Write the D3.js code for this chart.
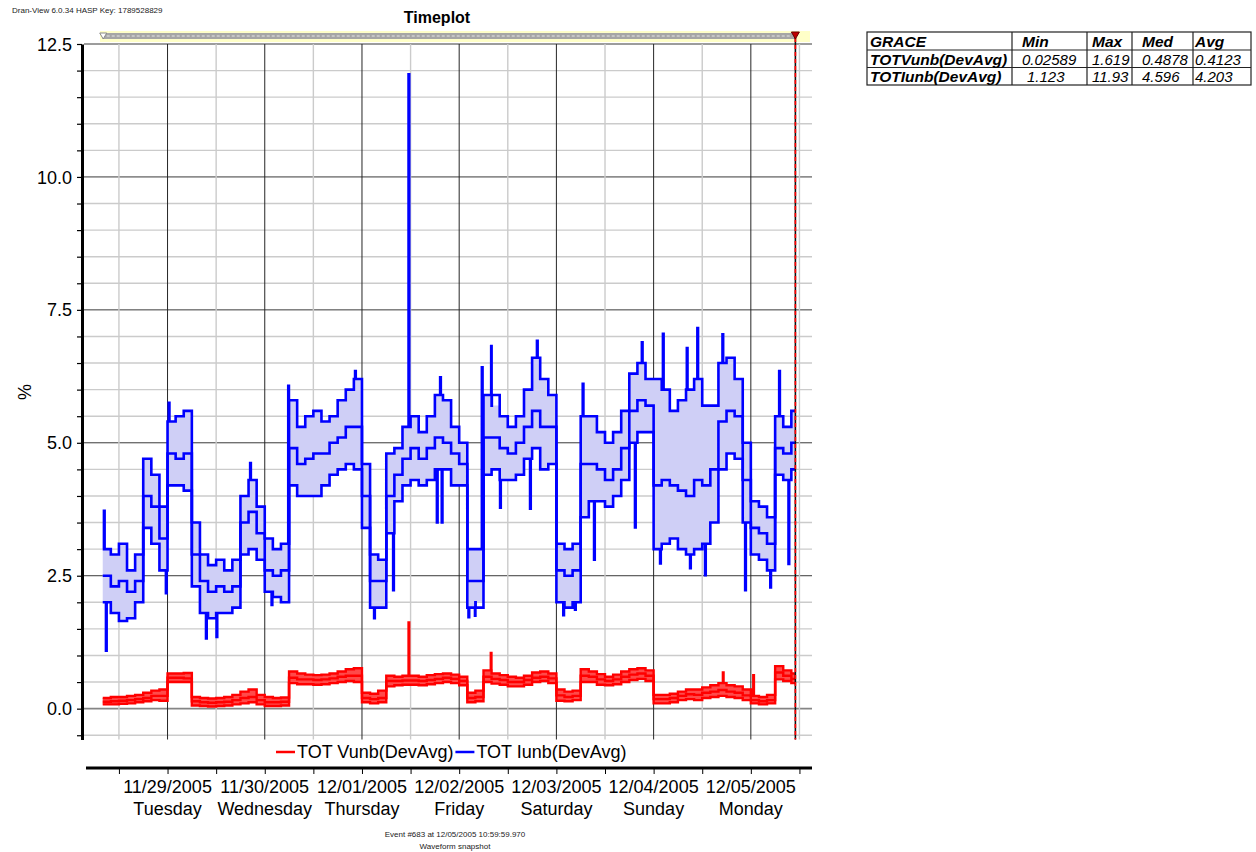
<!DOCTYPE html>
<html><head><meta charset="utf-8">
<script src="https://cdn.jsdelivr.net/npm/d3@7"></script>
<style>
html,body{margin:0;padding:0;background:#fff;}
svg{display:block;font-family:"Liberation Sans",Arial,sans-serif;}
</style></head><body>
<svg id="chart" width="1256" height="852"></svg>
<script>
// ---------------- DATA ----------------
const headerText = "Dran-View 6.0.34 HASP Key: 1789528829";
const chartTitle = "Timeplot";
const yAxisTitle = "%";
const footerLines = ["Event #683 at 12/05/2005 10:59:59.970", "Waveform snapshot"];
const seriesNames = ["TOT Vunb(DevAvg)", "TOT Iunb(DevAvg)"];
const seriesColors = ["#ff0000", "#0000ff"];

// samples every 2 hours starting 11/28/2005 08:00
const sampleStart = "2005-11-28T08:00";
const sampleStepHours = 2;
const eventTimeStr = "2005-12-05T10:59:59.970";

const iunbHi = [3.0,2.9,3.1,2.6,2.9,4.7,4.4,3.8, 5.4,5.5,5.6,3.5,2.9,2.7,2.8,2.6,2.8,4.0,4.3,3.8,
  3.2,3.0,3.1,5.8,5.3,5.5,5.6,5.4,5.5,5.8,6.0,6.2, 4.6,2.9,2.8,4.8,4.9,5.3,5.5,5.2,5.5,5.9,5.8,5.3,
  5.0,3.0,3.0,5.9,5.7,5.5,5.3,5.5,6.0,6.6,6.2,5.9, 3.1,3.0,3.1,5.5,5.5,5.2,5.0,5.2,5.6,6.3,6.5,6.2,
  6.2,6.0,5.6,5.8,6.0,6.2,5.7,5.7,6.5,6.6,6.2,5.0, 3.9,3.8,3.6,5.5,5.3,5.6];
const iunbMid = [2.5,2.3,2.4,2.2,2.4,4.0,3.8,3.2, 4.8,4.7,4.8,2.9,2.4,2.2,2.3,2.2,2.3,3.5,3.7,3.3,
  2.6,2.5,2.6,4.9,4.6,4.7,4.8,4.8,5.0,5.1,5.3,5.3, 4.0,2.4,2.4,4.0,4.4,4.7,4.9,4.7,4.9,5.1,5.0,4.8,
  4.6,2.4,2.4,5.1,5.1,4.9,4.8,5.0,5.3,5.6,5.3,5.3, 2.6,2.5,2.6,4.6,4.6,4.5,4.3,4.5,4.9,5.6,5.8,5.7,
  4.2,4.3,4.2,4.1,4.0,4.3,4.2,4.5,5.4,5.6,5.5,4.3, 3.4,3.3,3.1,4.9,4.8,5.0];
const iunbLo = [2.0,1.8,1.65,1.7,2.0,3.4,3.1,2.6, 4.2,4.2,4.1,2.3,1.8,1.7,1.8,1.8,1.9,2.9,3.0,2.8,
  2.2,2.1,2.0,4.2,4.0,4.0,4.0,4.2,4.4,4.5,4.6,4.5, 3.4,1.9,1.9,3.3,3.9,4.2,4.3,4.2,4.3,4.5,4.5,4.2,
  4.2,1.9,2.0,4.4,4.5,4.3,4.3,4.4,4.7,4.9,4.5,4.6, 2.0,1.9,2.0,3.6,3.9,3.9,3.8,4.0,4.3,5.0,5.2,5.2,
  3.0,3.1,3.2,3.0,2.9,3.0,3.1,3.5,4.5,4.8,4.7,3.5, 2.9,2.8,2.6,4.4,4.3,4.5];

const vunbHi = [0.2,0.22,0.22,0.24,0.26,0.3,0.34,0.36, 0.66,0.66,0.67,0.22,0.2,0.19,0.2,0.22,0.26,0.32,0.36,0.26,
  0.22,0.2,0.21,0.7,0.66,0.64,0.63,0.64,0.66,0.7,0.74,0.76, 0.3,0.28,0.34,0.62,0.6,0.62,0.62,0.6,0.63,0.65,0.66,0.64,
  0.6,0.3,0.34,0.72,0.66,0.63,0.6,0.58,0.62,0.68,0.7,0.66, 0.36,0.32,0.34,0.74,0.7,0.65,0.6,0.64,0.7,0.74,0.76,0.72,
  0.26,0.26,0.28,0.32,0.36,0.36,0.4,0.44,0.48,0.44,0.42,0.36, 0.24,0.22,0.26,0.8,0.72,0.66];
const vunbMid = [0.13,0.14,0.15,0.16,0.18,0.2,0.24,0.24, 0.58,0.58,0.57,0.14,0.12,0.11,0.12,0.13,0.16,0.2,0.22,0.16,
  0.12,0.12,0.13,0.58,0.55,0.55,0.54,0.55,0.57,0.6,0.62,0.62, 0.2,0.18,0.2,0.52,0.52,0.53,0.53,0.52,0.54,0.56,0.58,0.56,
  0.52,0.2,0.22,0.6,0.56,0.54,0.5,0.5,0.54,0.58,0.6,0.57, 0.25,0.22,0.24,0.62,0.6,0.55,0.52,0.55,0.6,0.64,0.66,0.62,
  0.18,0.18,0.2,0.24,0.27,0.26,0.3,0.32,0.35,0.32,0.3,0.25, 0.16,0.14,0.16,0.68,0.62,0.56];
const vunbLo = [0.08,0.08,0.09,0.1,0.12,0.14,0.16,0.15, 0.5,0.5,0.5,0.06,0.05,0.04,0.05,0.06,0.08,0.1,0.12,0.08,
  0.05,0.05,0.06,0.48,0.46,0.46,0.45,0.46,0.48,0.5,0.52,0.5, 0.12,0.1,0.12,0.42,0.44,0.45,0.45,0.44,0.46,0.48,0.5,0.48,
  0.44,0.12,0.14,0.5,0.47,0.45,0.42,0.42,0.45,0.5,0.52,0.48, 0.15,0.14,0.16,0.5,0.5,0.45,0.44,0.46,0.5,0.54,0.56,0.52,
  0.1,0.1,0.12,0.16,0.18,0.16,0.2,0.22,0.24,0.22,0.2,0.16, 0.1,0.08,0.1,0.55,0.52,0.48];

// short excursions (time, value)
const iunbPeakTimes = ["2005-11-28T08:18","2005-11-29T00:18","2005-11-29T20:24","2005-11-30T05:48","2005-11-30T22:18",
  "2005-12-01T11:30","2005-12-01T19:18","2005-12-02T05:36","2005-12-02T07:54","2005-12-02T19:12","2005-12-03T06:30",
  "2005-12-03T21:06","2005-12-04T02:18","2005-12-04T08:12","2005-12-04T10:48","2005-12-04T17:00","2005-12-05T07:00"];
const iunbPeakValues = [3.72,5.75,4.62,6.07,6.35, 11.93,6.23,6.42,6.82,6.92,6.11, 6.89,7.05,6.78,7.16,7.04,6.35];
const iunbDipTimes = ["2005-11-28T08:48","2005-11-28T23:36","2005-11-29T09:30","2005-11-29T12:06","2005-11-30T01:42",
  "2005-12-01T03:00","2005-12-01T07:42","2005-12-01T18:30","2005-12-01T19:42","2005-12-02T02:18","2005-12-02T03:54",
  "2005-12-02T10:06","2005-12-02T17:30","2005-12-03T01:42","2005-12-03T04:36","2005-12-03T09:18","2005-12-03T19:24",
  "2005-12-04T01:36","2005-12-04T09:00","2005-12-04T12:42","2005-12-04T22:36","2005-12-05T04:48","2005-12-05T09:18"];
const iunbDipValues = [1.09,2.17,1.32,1.35,1.95, 1.7,2.23,3.5,3.5,1.72,1.75, 3.78,3.76,1.76,1.86,2.8,3.41,
  2.73,2.64,2.51,2.23,2.28,2.72];
const vunbPeakTimes = ["2005-12-01T11:30","2005-12-02T07:48","2005-12-04T17:06","2005-12-05T00:36"];
const vunbPeakValues = [1.619,1.05,0.68,0.63];

const yMajorTicks = [0, 2.5, 5, 7.5, 10, 12.5];
const yTickLabels = ["0.0","2.5","5.0","7.5","10.0","12.5"];
const dayTickDates = ["2005-11-29","2005-11-30","2005-12-01","2005-12-02","2005-12-03","2005-12-04","2005-12-05"];
const dayLabels = ["11/29/2005","11/30/2005","12/01/2005","12/02/2005","12/03/2005","12/04/2005","12/05/2005"];
const weekdayLabels = ["Tuesday","Wednesday","Thursday","Friday","Saturday","Sunday","Monday"];

const tableHeader = ["GRACE","Min","Max","Med","Avg"];
const tableRowNames = ["TOTVunb(DevAvg)","TOTIunb(DevAvg)"];
const tableValues = [["0.02589","1.619","0.4878","0.4123"],["1.123","11.93","4.596","4.203"]];

// ---------------- DRAW ----------------
const parse = s => new Date(s);
const svg = d3.select("#chart");
const L = 82, R = 812, T = 44, B = 739.5;
const x = d3.scaleTime().domain([new Date(2005,10,28,2,53), new Date(2005,11,5,15,6)]).range([L, R]);
const y = d3.scaleLinear().domain([-0.58, 12.5]).range([B, T]);
const t0 = parse(sampleStart), tEnd = parse(eventTimeStr);
const tAt = i => d3.timeHour.offset(t0, i * sampleStepHours);

// header / title / footer
svg.append("text").attr("x", 12).attr("y", 13).attr("font-size", 8).attr("fill", "#222").text(headerText);
svg.append("text").attr("x", 437).attr("y", 23).attr("text-anchor", "middle").attr("font-size", 16)
  .attr("font-weight", "bold").text(chartTitle);
footerLines.forEach((s, i) => svg.append("text").attr("x", 455).attr("y", 837 + i * 12)
  .attr("text-anchor", "middle").attr("font-size", 8).attr("fill", "#222").text(s));
svg.append("text").attr("transform", "translate(31,392) rotate(-90)").attr("text-anchor", "middle")
  .attr("font-size", 18).text(yAxisTitle);

// gridlines
const grid = svg.append("g");
const halfSteps = d3.range(-0.5, 12.51, 0.5);
grid.selectAll("line.h").data(halfSteps).join("line")
  .attr("x1", L + 2).attr("x2", R).attr("y1", d => y(d)).attr("y2", d => y(d))
  .attr("stroke", d => d === 0 ? "#858585" : (yMajorTicks.includes(d) ? "#3a3a3a" : "#cbcbcb"))
  .attr("stroke-width", d => d === 0 ? 1.6 : (yMajorTicks.includes(d) ? 1 : 1.4));
const halfDays = d3.timeHour.every(12).range(new Date(2005,10,28,12), new Date(2005,11,5,13));
grid.selectAll("line.v").data(halfDays).join("line")
  .attr("x1", d => x(d)).attr("x2", d => x(d)).attr("y1", T).attr("y2", B)
  .attr("stroke", d => d.getHours() === 0 ? "#262626" : "#cbcbcb")
  .attr("stroke-width", d => d.getHours() === 0 ? 1 : 1.4);

// top event band
svg.append("rect").attr("x", 100).attr("y", 31).attr("width", 710).attr("height", 11).attr("fill", "#ffffc8");
svg.append("rect").attr("x", x(t0)).attr("y", 33).attr("width", x(tEnd) - x(t0)).attr("height", 6).attr("fill", "#a6a6a6");
svg.append("line").attr("x1", x(t0) + 4).attr("x2", x(tEnd) - 4).attr("y1", 36).attr("y2", 36)
  .attr("stroke", "#e6e6e6").attr("stroke-width", 1).attr("stroke-dasharray", "3,2");
svg.append("path").attr("d", `M${x(t0)-3},33 L${x(t0)+4},33 L${x(t0)+0.5},39 Z`).attr("fill", "#fff").attr("stroke", "#888");

// clip
svg.append("clipPath").attr("id", "clip").append("rect").attr("x", L + 2).attr("y", T - 1).attr("width", R - L).attr("height", B - T + 1);
const plot = svg.append("g").attr("clip-path", "url(#clip)");

function basePoints(hi, mid, lo) {
  const pts = hi.map((v, i) => ({t: tAt(i), hi: v, mid: mid[i], lo: lo[i]}));
  const last = pts[pts.length - 1];
  pts.push({t: tEnd, hi: last.hi, mid: last.mid, lo: last.lo});
  return pts;
}
function lineWithExcursions(base, key, times, values) {
  const pts = base.map(p => ({t: p.t, v: p[key]}));
  times.forEach((s, j) => {
    const ts = parse(s);
    const idx = Math.min(base.length - 1, Math.max(0, Math.floor((ts - t0) / (sampleStepHours * 3600e3))));
    pts.push({t: ts, v: values[j]});
    pts.push({t: d3.timeMinute.offset(ts, 10), v: base[idx][key]});
  });
  pts.sort((a, b) => a.t - b.t);
  return pts;
}
const lineGen = d3.line().x(d => x(d.t)).y(d => y(d.v)).curve(d3.curveStepAfter);
const areaGen = d3.area().x(d => x(d.t)).y0(d => y(d.lo)).y1(d => y(d.hi)).curve(d3.curveStepAfter);

function drawSeries(hi, mid, lo, color, fill, width, peaks, dips) {
  const base = basePoints(hi, mid, lo);
  plot.append("path").datum(base).attr("d", areaGen).attr("fill", fill);
  const lines = [
    lineWithExcursions(base, "mid", [], []),
    lineWithExcursions(base, "lo", dips[0], dips[1]),
    lineWithExcursions(base, "hi", peaks[0], peaks[1])
  ];
  lines.forEach(p => plot.append("path").datum(p).attr("d", lineGen).attr("fill", "none")
    .attr("stroke", color).attr("stroke-width", width).attr("stroke-linejoin", "miter"));
}
drawSeries(vunbHi, vunbMid, vunbLo, seriesColors[0], "#ff4a4a", 2.4, [vunbPeakTimes, vunbPeakValues], [[], []]);
drawSeries(iunbHi, iunbMid, iunbLo, seriesColors[1], "#cfcff6", 2.6, [iunbPeakTimes, iunbPeakValues], [iunbDipTimes, iunbDipValues]);

// cursor
svg.append("line").attr("x1", x(tEnd)).attr("x2", x(tEnd)).attr("y1", 38).attr("y2", B)
  .attr("stroke", "#111").attr("stroke-width", 1.6);
svg.append("line").attr("x1", x(tEnd)).attr("x2", x(tEnd)).attr("y1", 38).attr("y2", B)
  .attr("stroke", "#ff0000").attr("stroke-width", 1.6).attr("stroke-dasharray", "4,3");
svg.append("path").attr("d", `M${x(tEnd)-4},32 L${x(tEnd)+4},32 L${x(tEnd)},39 Z`).attr("fill", "#c00000").attr("stroke", "#600");

// y axis
const yAxis = d3.axisLeft(y).tickValues(halfSteps).tickSize(5).tickSizeOuter(0).tickPadding(5)
  .tickFormat(d => { const k = yMajorTicks.indexOf(d); return k >= 0 ? yTickLabels[k] : ""; });
const gy = svg.append("g").attr("transform", `translate(${L},0)`).call(yAxis);
gy.select(".domain").attr("stroke", "#000").attr("stroke-width", 3);
gy.selectAll(".tick line").attr("stroke", "#000").attr("stroke-width", 1.2);
gy.selectAll(".tick text").attr("font-size", 18).attr("font-family", "Liberation Sans, Arial, sans-serif").attr("fill", "#000")
  .attr("dy", "0.34em");

// x axis (lower band)
const xAxis = d3.axisBottom(x).tickValues(halfDays).tickSize(6).tickSizeOuter(0).tickFormat("");
const gx = svg.append("g").attr("transform", "translate(0,768)").call(xAxis);
gx.select(".domain").attr("stroke", "#000").attr("stroke-width", 3).attr("d", `M${L+4},0H${R}`);
gx.selectAll(".tick line").attr("stroke", "#000").attr("stroke-width", 1);
const dl = svg.append("g").attr("font-size", 18).attr("text-anchor", "middle");
dayTickDates.forEach((s, i) => {
  const d = new Date(s + "T00:00");
  dl.append("text").attr("x", x(d)).attr("y", 793).text(dayLabels[i]);
  dl.append("text").attr("x", x(d)).attr("y", 815).text(weekdayLabels[i]);
});

// legend
const lg = svg.append("g").attr("font-size", 18);
let lx = 276;
seriesNames.forEach((n, i) => {
  lg.append("line").attr("x1", lx).attr("x2", lx + 19).attr("y1", 752).attr("y2", 752)
    .attr("stroke", seriesColors[i]).attr("stroke-width", 2.5);
  const t = lg.append("text").attr("x", lx + 21).attr("y", 758).text(n);
  lx = lx + 21 + t.node().getComputedTextLength() + 2;
});

// stats table
const colX = [867, 1012, 1087, 1132, 1193, 1251];
const textX = [870, 1022, 1092, 1142, 1195];
const rowY = [32, 50, 67.5, 85];
const tb = svg.append("g");
tb.append("rect").attr("x", colX[0]).attr("y", rowY[0]).attr("width", colX[5] - colX[0]).attr("height", rowY[3] - rowY[0])
  .attr("fill", "#fff").attr("stroke", "#222").attr("stroke-width", 1.2);
colX.slice(1, 5).forEach(cx => tb.append("line").attr("x1", cx).attr("x2", cx).attr("y1", rowY[0]).attr("y2", rowY[3])
  .attr("stroke", "#222").attr("stroke-width", 1.2));
rowY.slice(1, 3).forEach(ry => tb.append("line").attr("x1", colX[0]).attr("x2", colX[5]).attr("y1", ry).attr("y2", ry)
  .attr("stroke", "#222").attr("stroke-width", 1.2));
tableHeader.forEach((h, j) => tb.append("text").attr("x", textX[j]).attr("y", 46.5).attr("font-size", 15.5)
  .attr("font-style", "italic").attr("font-weight", "bold").text(h));
tableRowNames.forEach((n, r) => {
  const by = [64.5, 82][r];
  tb.append("text").attr("x", textX[0]).attr("y", by).attr("font-size", 15.5).attr("font-style", "italic")
    .attr("font-weight", "bold").text(n);
  tableValues[r].forEach((v, j) => tb.append("text").attr("x", textX[j + 1] + (r === 1 && j === 0 ? 5 : 0)).attr("y", by)
    .attr("font-size", 15).attr("font-style", "italic").text(v));
});
</script>
</body></html>
